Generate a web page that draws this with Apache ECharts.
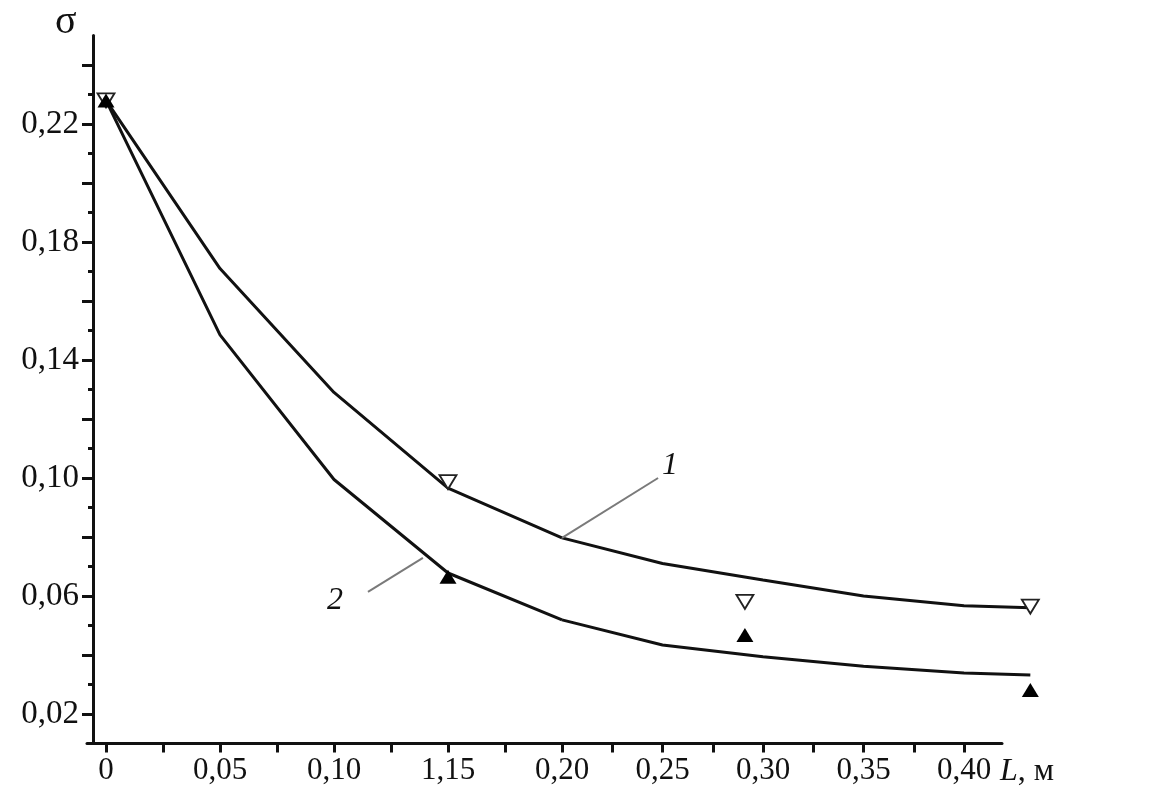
<!DOCTYPE html>
<html><head><meta charset="utf-8">
<script src="https://cdn.jsdelivr.net/npm/echarts@6/dist/echarts.min.js"></script>
<style>html,body{margin:0;padding:0;background:#fff}#c{width:1152px;height:810px}</style>
</head><body><div id="c"></div>
<script>
// calculated curves: L (m) vs sigma
const curveL  = [0, 0.05, 0.10, 0.15, 0.20, 0.25, 0.30, 0.35, 0.40, 0.433];
const curve1  = [0.228, 0.171, 0.129, 0.0966, 0.0797, 0.0710, 0.0654, 0.0600, 0.0567, 0.0560];
const curve2  = [0.228, 0.1485, 0.0995, 0.0678, 0.0519, 0.0434, 0.0394, 0.0362, 0.0339, 0.0332];
// experimental points
const expL  = [0, 0.15, 0.291, 0.433];
const exp1  = [0.228, 0.0986, 0.0580, 0.0564];   // open inverted triangles
const exp2  = [0.228, 0.0665, 0.0468, 0.0281];   // filled triangles
// axis ticks / labels
const xTickVals   = [0, 0.05, 0.10, 0.15, 0.20, 0.25, 0.30, 0.35, 0.40];
const xTickLabels = ["0", "0,05", "0,10", "1,15", "0,20", "0,25", "0,30", "0,35", "0,40"];
const xMinorLeft  = [0, 0.025, 0.05, 0.075, 0.10, 0.125, 0.15, 0.175];
const xMinorRight = [0.20, 0.225, 0.25, 0.275, 0.30, 0.325, 0.35, 0.375, 0.40];
const yTickVals   = [0.02, 0.06, 0.10, 0.14, 0.18, 0.22];
const yTickLabels = ["0,02", "0,06", "0,10", "0,14", "0,18", "0,22"];
const yMajorTicks = [0.02, 0.04, 0.06, 0.08, 0.10, 0.12, 0.14, 0.16, 0.18, 0.20, 0.22, 0.24];
const yMinorTicks = [0.03, 0.05, 0.07, 0.09, 0.11, 0.13, 0.15, 0.17, 0.19, 0.21, 0.23];
// curve annotations: leader line [from, to] and label position
const lead1 = [[0.20, 0.0797], [0.2478, 0.100]];
const lab1  = [0.2537, 0.1041];
const lead2 = [[0.139, 0.0729], [0.1149, 0.0614]];
const lab2  = [0.1004, 0.0586];

const SPLIT = 0.20;
const INK = '#111';
const FONT = 'Liberation Serif';
function pairs(xs, ys) { return xs.map((x, i) => [x, ys[i]]); }
function left(arr)  { return arr.filter(p => p[0] <= SPLIT + 1e-9); }
function right(arr) { return arr.filter(p => p[0] >= SPLIT - 1e-9); }
function lookup(vals, labels, v) {
  for (let i = 0; i < vals.length; i++) if (Math.abs(vals[i] - v) < 1e-6) return labels[i];
  return '';
}
const c1 = pairs(curveL, curve1), c2 = pairs(curveL, curve2);
const e1 = pairs(expL, exp1), e2 = pairs(expL, exp2);

const xAxisCommon = {
  type: 'value',
  axisLine: { onZero: false, lineStyle: { color: INK, width: 3 } },
  axisTick: { length: 9, lineStyle: { color: INK, width: 3 } },
  axisLabel: { color: INK, fontFamily: FONT, fontSize: 31, margin: 12,
    formatter: v => lookup(xTickVals, xTickLabels, v) },
  splitLine: { show: false }
};
function xAxisDef(grid, min, max, ticks, labels) {
  return Object.assign({}, xAxisCommon, {
    gridIndex: grid, min: min, max: max,
    axisTick: Object.assign({}, xAxisCommon.axisTick, { customValues: ticks }),
    axisLabel: Object.assign({}, xAxisCommon.axisLabel, { customValues: labels })
  });
}
const lineStyle = { color: INK, width: 3 };
function lineSeries(data, xi, yi) {
  return { type: 'line', data: data, xAxisIndex: xi, yAxisIndex: yi, symbol: 'none',
    lineStyle: lineStyle, clip: false, z: 3 };
}
function openTri(data, xi, yi) {
  return { type: 'scatter', data: data, xAxisIndex: xi, yAxisIndex: yi, symbol: 'triangle',
    symbolRotate: 180, symbolSize: [17, 14], clip: false, z: 5,
    itemStyle: { color: '#fff', borderColor: '#222', borderWidth: 1.8, opacity: 1 } };
}
function fullTri(data, xi, yi) {
  return { type: 'scatter', data: data, xAxisIndex: xi, yAxisIndex: yi, symbol: 'triangle',
    symbolSize: [17, 14], clip: false, z: 6, itemStyle: { color: '#000', opacity: 1 } };
}
const leaderLine = (seg) => ({
  silent: true, symbol: ['none', 'none'], label: { show: false },
  lineStyle: { color: '#7a7a7a', width: 2, type: 'solid' },
  data: [[{ coord: seg[0] }, { coord: seg[1] }]]
});
const tag = (pos, txt) => ({
  silent: true, symbol: 'circle', symbolSize: 1, itemStyle: { color: 'rgba(0,0,0,0)' },
  label: { show: true, position: 'inside', formatter: txt, color: INK,
    fontFamily: FONT, fontStyle: 'italic', fontSize: 32 },
  data: [{ coord: pos }]
});

const PXR = 2010;   // pixels per unit L on the right part of the axis
const chart = echarts.init(document.getElementById('c'));
chart.setOption({
  animation: false,
  backgroundColor: '#fff',
  grid: [
    { left: 87, top: 35.5, width: 475, height: 708 },
    { left: 562, top: 35.5, width: 440, height: 708 },
    { left: 562, top: 35.5, width: 490, height: 708 }
  ],
  xAxis: [
    xAxisDef(0, -19 / 2280, SPLIT, xMinorLeft, xTickVals.filter(v => v < SPLIT - 1e-9)),
    xAxisDef(1, SPLIT, SPLIT + 440 / PXR, xMinorRight, xTickVals.filter(v => v >= SPLIT - 1e-9)),
    { type: 'value', gridIndex: 2, min: SPLIT, max: SPLIT + 490 / PXR, show: false }
  ],
  yAxis: [
    { type: 'value', gridIndex: 0, position: 'left', offset: -6, min: 0.01, max: 0.25,
      axisLine: { show: true, onZero: false, lineStyle: { color: INK, width: 3 } },
      axisTick: { show: true, length: 11, customValues: yMajorTicks, lineStyle: { color: INK, width: 3 } },
      axisLabel: { customValues: yTickVals, color: INK, fontFamily: FONT, fontSize: 33, margin: 14,
        formatter: v => lookup(yTickVals, yTickLabels, v) },
      splitLine: { show: false } },
    { type: 'value', gridIndex: 0, position: 'left', offset: -6, min: 0.01, max: 0.25,
      axisLine: { show: false, onZero: false },
      axisTick: { show: true, length: 5, customValues: yMinorTicks, lineStyle: { color: INK, width: 3 } },
      axisLabel: { show: false }, splitLine: { show: false } },
    { type: 'value', gridIndex: 1, min: 0.01, max: 0.25, show: false },
    { type: 'value', gridIndex: 2, min: 0.01, max: 0.25, show: false }
  ],
  series: [
    Object.assign(lineSeries(left(c1), 0, 0), { markLine: leaderLine(lead2), markPoint: tag(lab2, '2') }),
    lineSeries(left(c2), 0, 0),
    Object.assign(lineSeries(right(c1), 2, 3), { markLine: leaderLine(lead1), markPoint: tag(lab1, '1') }),
    lineSeries(right(c2), 2, 3),
    openTri(left(e1), 0, 0),
    openTri(right(e1).filter(p => p[0] > SPLIT), 2, 3),
    fullTri(left(e2), 0, 0),
    fullTri(right(e2).filter(p => p[0] > SPLIT), 2, 3)
  ],
  graphic: [
    { type: 'text', left: 55, top: 2, style: { text: 'σ', font: '40px "Liberation Serif"', fill: INK } },
    { type: 'text', left: 1000, top: 756, style: {
        text: '{i|L}{r|, м}', fill: INK,
        rich: { i: { fontFamily: FONT, fontStyle: 'italic', fontSize: 32, fill: INK },
                r: { fontFamily: FONT, fontSize: 32, fill: INK } } } }
  ]
});
</script></body></html>
